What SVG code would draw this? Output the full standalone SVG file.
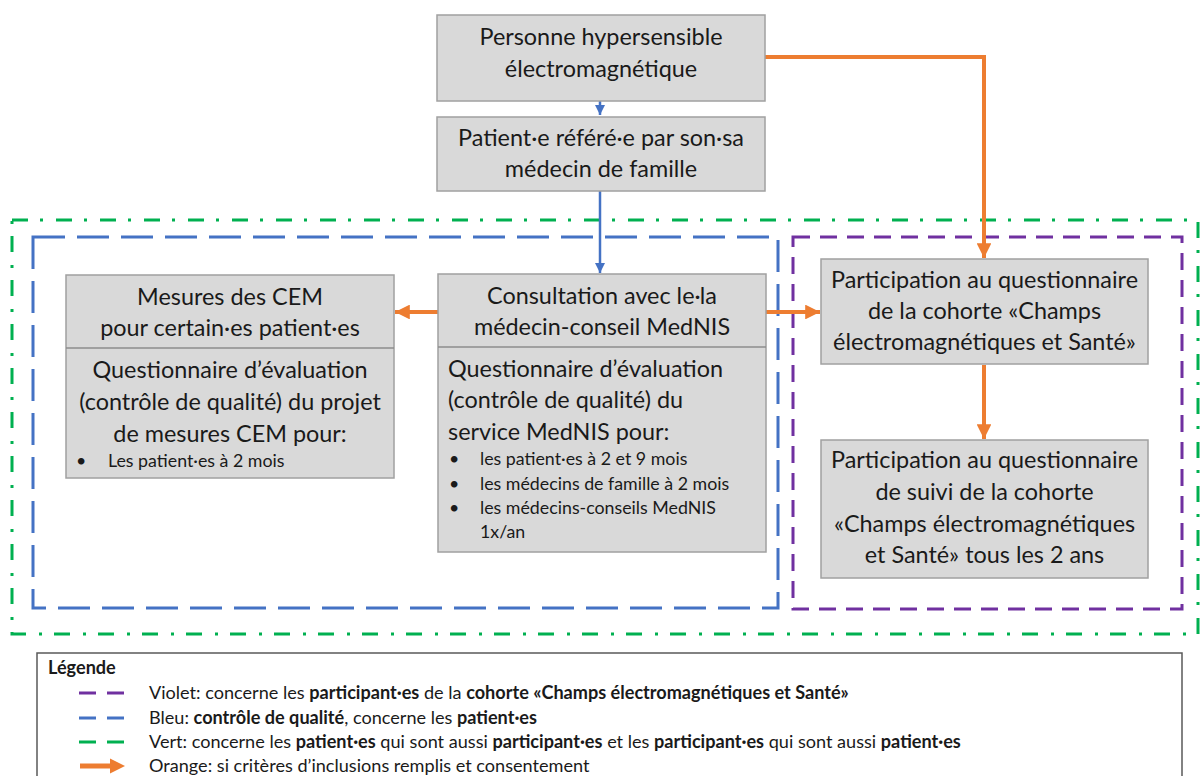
<svg xmlns="http://www.w3.org/2000/svg" width="1201" height="776" viewBox="0 0 1201 776">
<defs>
<style>
.box{fill:#D9D9D9;stroke:#A0A0A0;stroke-width:1.5}
.div{stroke:#8C8C8C;stroke-width:1.5}
.t{font-family:Lato,"Liberation Sans",sans-serif;font-size:23.4px;fill:#1a1a1a}
.c{text-anchor:middle}
.s{font-family:Lato,"Liberation Sans",sans-serif;font-size:17.8px;fill:#1a1a1a}
.l{font-family:Lato,"Liberation Sans",sans-serif;font-size:18.1px;fill:#1a1a1a}
.b{font-weight:bold}
.blue{stroke:#4472C4;stroke-width:2.5;fill:none}
.orange{stroke:#ED7D31;stroke-width:4;fill:none}
</style>
<marker id="ab" viewBox="0 0 10 10" refX="10" refY="5" markerWidth="4.2" markerHeight="4.2" markerUnits="strokeWidth" orient="auto"><path d="M0,0 L10,5 L0,10 z" fill="#4472C4"/></marker>
<marker id="ao" viewBox="0 0 10 10" refX="10" refY="5" markerWidth="3.7" markerHeight="3.7" markerUnits="strokeWidth" orient="auto"><path d="M0,0 L10,5 L0,10 z" fill="#ED7D31"/></marker>
</defs>
<rect width="1201" height="776" fill="#fff"/>

<g id="zones" fill="none">
<rect id="zone-vert" x="12" y="220" width="1186" height="414" stroke="#00B050" stroke-width="3" stroke-dasharray="16 12 3 13"/>
<rect id="zone-bleu" x="33" y="237" width="745" height="371" stroke="#4472C4" stroke-width="3" stroke-dasharray="32 12"/>
<rect id="zone-violet" x="793" y="237" width="389" height="372" stroke="#7030A0" stroke-width="3" stroke-dasharray="17 10"/>
</g>

<g id="connectors">
<line class="blue" x1="600" y1="101" x2="600" y2="115" marker-end="url(#ab)"/>
<line class="blue" x1="600" y1="191" x2="600" y2="273" marker-end="url(#ab)"/>
<path class="orange" d="M765,57 H984 V258" marker-end="url(#ao)"/>
<line class="orange" x1="438" y1="312" x2="395" y2="312" marker-end="url(#ao)"/>
<line class="orange" x1="766" y1="312" x2="820" y2="312" marker-end="url(#ao)"/>
<line class="orange" x1="984" y1="365" x2="984" y2="439" marker-end="url(#ao)"/>
</g>

<g id="n-personne">
<rect class="box" x="437" y="15" width="328" height="86"/>
<text class="t c" x="601" y="45">Personne hypersensible</text>
<text class="t c" x="601" y="77">électromagnétique</text>
</g>

<g id="n-patient">
<rect class="box" x="437" y="117" width="328" height="74"/>
<text class="t c" x="601" y="146">Patient·e référé·e par son·sa</text>
<text class="t c" x="601" y="177">médecin de famille</text>
</g>

<g id="n-mesures">
<rect class="box" x="66" y="275" width="328" height="203"/>
<line class="div" x1="66" y1="348" x2="394" y2="348"/>
<text class="t c" x="230" y="305">Mesures des CEM</text>
<text class="t c" x="230" y="336">pour certain·es patient·es</text>
<text class="t c" x="230" y="378">Questionnaire d’évaluation</text>
<text class="t c" x="230" y="410">(contrôle de qualité) du projet</text>
<text class="t c" x="230" y="442">de mesures CEM pour:</text>
<text class="s" x="76" y="467">•</text>
<text class="s" x="108" y="467">Les patient·es à 2 mois</text>
</g>

<g id="n-consultation">
<rect class="box" x="438" y="274" width="328" height="278"/>
<line class="div" x1="438" y1="347" x2="766" y2="347"/>
<text class="t c" x="602" y="304">Consultation avec le·la</text>
<text class="t c" x="602" y="335">médecin-conseil MedNIS</text>
<text class="t" x="448" y="377">Questionnaire d’évaluation</text>
<text class="t" x="448" y="408">(contrôle de qualité) du</text>
<text class="t" x="448" y="440">service MedNIS pour:</text>
<text class="s" x="449" y="465">•</text>
<text class="s" x="480" y="465">les patient·es à 2 et 9 mois</text>
<text class="s" x="449" y="490">•</text>
<text class="s" x="480" y="490">les médecins de famille à 2 mois</text>
<text class="s" x="449" y="514">•</text>
<text class="s" x="480" y="514">les médecins-conseils  MedNIS</text>
<text class="s" x="480" y="538">1x/an</text>
</g>

<g id="n-cohorte">
<rect class="box" x="821" y="259" width="327" height="105"/>
<text class="t c" x="984.5" y="288">Participation au questionnaire</text>
<text class="t c" x="984.5" y="319">de la cohorte «Champs</text>
<text class="t c" x="984.5" y="350">électromagnétiques et Santé»</text>
</g>

<g id="n-suivi">
<rect class="box" x="821" y="440" width="327" height="138"/>
<text class="t c" x="984.5" y="468">Participation au questionnaire</text>
<text class="t c" x="984.5" y="500">de suivi de la cohorte</text>
<text class="t c" x="984.5" y="532">«Champs électromagnétiques</text>
<text class="t c" x="984.5" y="563">et Santé» tous les 2 ans</text>
</g>

<g id="legende">
<rect x="37" y="653" width="1145" height="130" fill="#fff" stroke="#595959" stroke-width="1.5"/>
<text class="l b" x="48" y="674">Légende</text>
<line x1="79" y1="693" x2="125" y2="693" stroke="#7030A0" stroke-width="3" stroke-dasharray="17 11"/>
<line x1="79" y1="718" x2="125" y2="718" stroke="#4472C4" stroke-width="3" stroke-dasharray="17 11"/>
<line x1="79" y1="742" x2="125" y2="742" stroke="#00B050" stroke-width="3" stroke-dasharray="17 11"/>
<line x1="80" y1="766" x2="112" y2="766" stroke="#ED7D31" stroke-width="5"/>
<polygon points="110,758.5 125,766 110,773.5" fill="#ED7D31"/>
<text class="l" x="149" y="699">Violet: concerne les <tspan class="b">participant·es</tspan> de la <tspan class="b">cohorte «Champs électromagnétiques et Santé»</tspan></text>
<text class="l" x="149" y="724">Bleu: <tspan class="b">contrôle de qualité</tspan>, concerne les <tspan class="b">patient·es</tspan></text>
<text class="l" x="149" y="748">Vert: concerne les <tspan class="b">patient·es</tspan> qui sont aussi <tspan class="b">participant·es</tspan> et les <tspan class="b">participant·es</tspan> qui sont aussi <tspan class="b">patient·es</tspan></text>
<text class="l" x="149" y="772">Orange: si critères d’inclusions remplis et consentement</text>
</g>
</svg>
